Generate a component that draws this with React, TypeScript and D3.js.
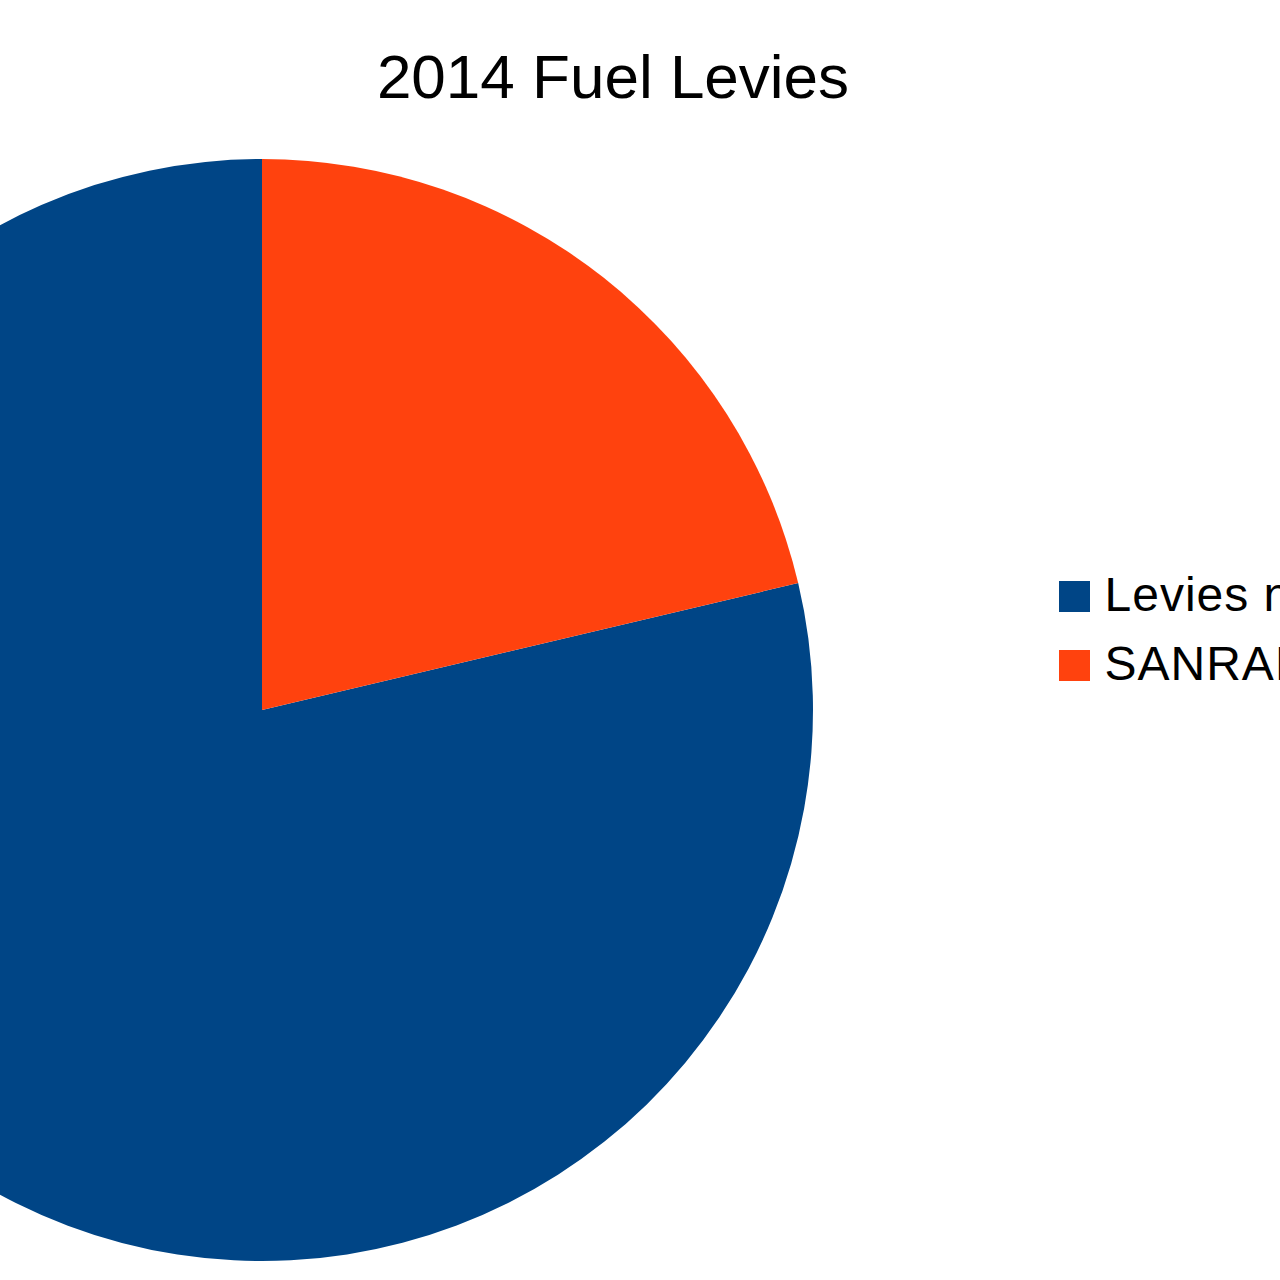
import React, { useEffect, useRef } from "react";
import * as d3 from "d3";

// slices (share of total, %)
const categories = ["Levies not for SANRAL", "SANRAL"];
const values = [78.7, 21.3];
const colors = ["#004586", "#ff420e"];
const title = "2014 Fuel Levies";

const App = () => {
  const svgRef = useRef<SVGSVGElement | null>(null);

  useEffect(() => {
    const width = 1280;
    const height = 1280;
    const cx = 262;
    const cy = 710;
    const radius = 551;

    const svg = d3
      .select(svgRef.current)
      .attr("viewBox", [0, 0, width, height])
      .attr("width", width)
      .attr("height", height)
      .style("font-family", "'Liberation Sans', Arial, sans-serif");

    svg.selectAll("*").remove();

    svg
      .append("rect")
      .attr("width", width)
      .attr("height", height)
      .attr("fill", "#fff");

    // title
    svg
      .append("text")
      .attr("x", 613)
      .attr("y", 98)
      .attr("text-anchor", "middle")
      .attr("font-size", 62)
      .attr("fill", "#000")
      .text(title);

    // pie, drawn counter-clockwise from 12 o'clock like the original
    const pie = d3
      .pie<number>()
      .sort(null)
      .startAngle(2 * Math.PI)
      .endAngle(0);

    const arc = d3
      .arc<d3.PieArcDatum<number>>()
      .innerRadius(0)
      .outerRadius(radius);

    svg
      .append("g")
      .attr("transform", `translate(${cx},${cy})`)
      .selectAll("path")
      .data(pie(values))
      .join("path")
      .attr("fill", (_, i) => colors[i])
      .attr("d", arc);

    // legend (runs off the right edge, as in the original)
    const legend = svg
      .append("g")
      .attr("transform", "translate(1059,581)");

    const item = legend
      .selectAll("g")
      .data(categories)
      .join("g")
      .attr("transform", (_, i) => `translate(0,${i * 69})`);

    item
      .append("rect")
      .attr("width", 31)
      .attr("height", 31)
      .attr("fill", (_, i) => colors[i]);

    item
      .append("text")
      .attr("x", 45.5)
      .attr("y", 30)
      .attr("font-size", 48)
      .attr("letter-spacing", 1)
      .attr("fill", "#000")
      .text((d) => d);
  }, []);

  return (
    <div style={{ position: "absolute", left: 0, top: 0 }}>
      <svg ref={svgRef} style={{ display: "block" }}></svg>
    </div>
  );
};

export default App;
